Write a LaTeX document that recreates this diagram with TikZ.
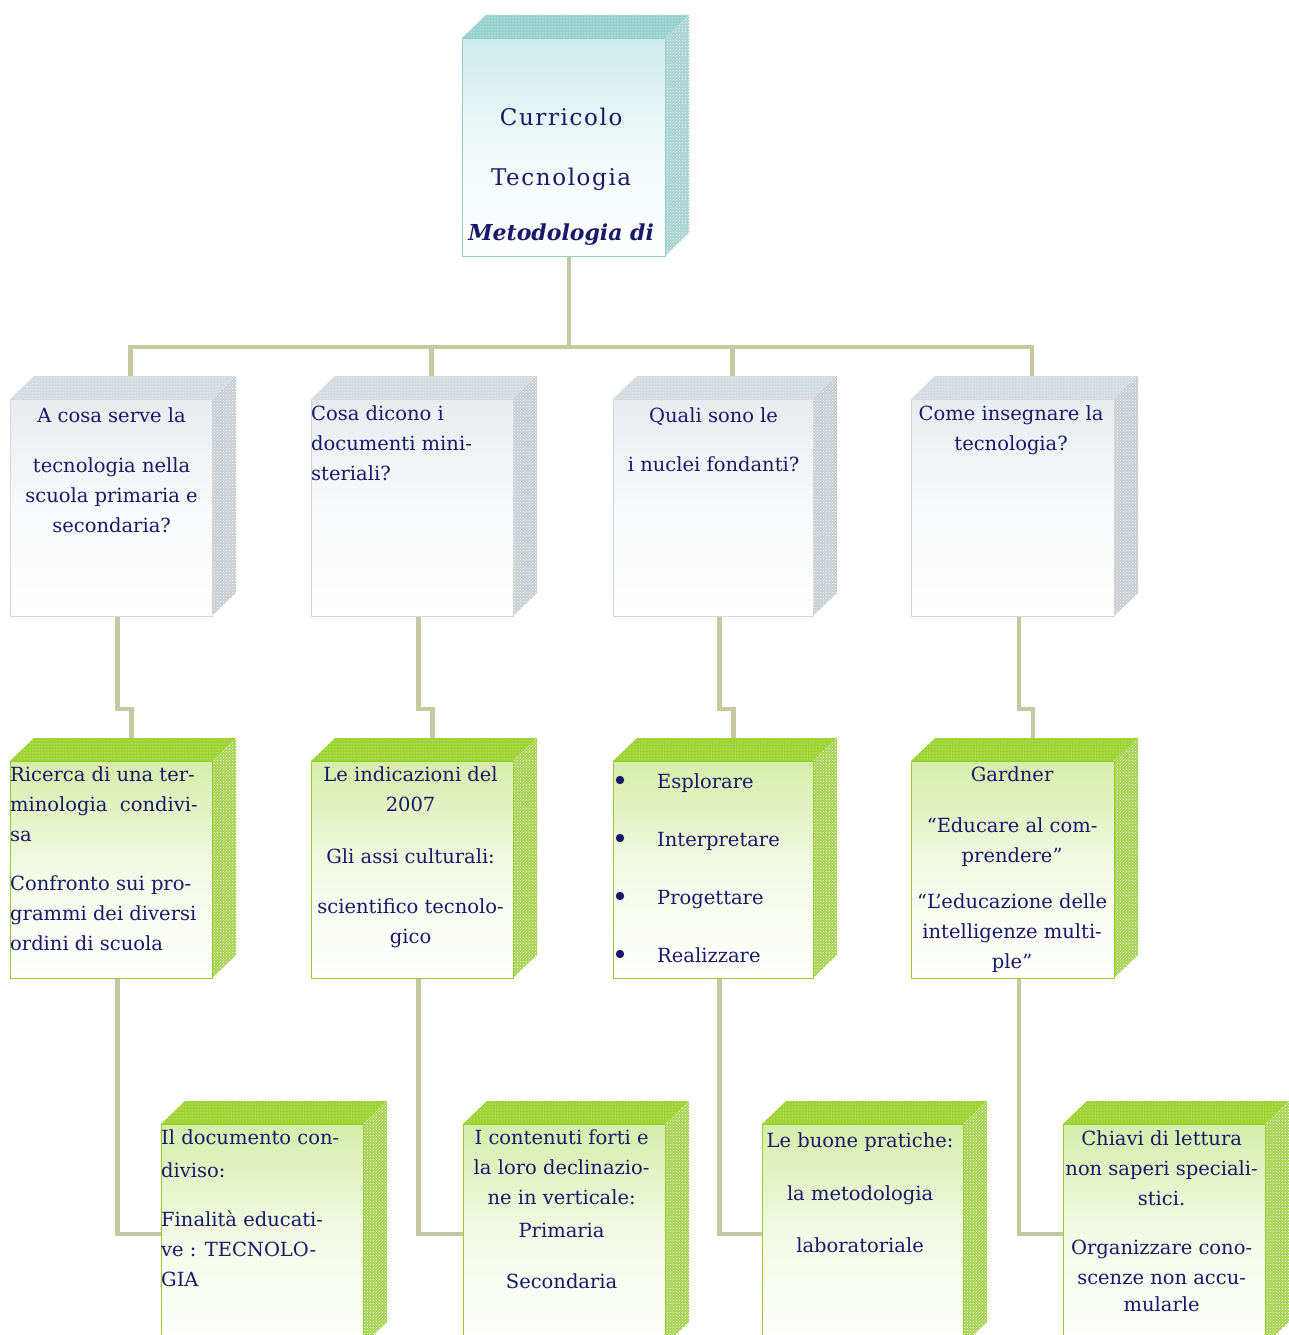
\documentclass[tikz,border=0pt]{standalone}
\usepackage{fontspec}
\setmainfont{DejaVu Serif}
\usetikzlibrary{calc,patterns}
\definecolor{txt}{RGB}{25,25,105}
\definecolor{conn}{RGB}{200,200,160}
% teal scheme
\definecolor{Ttop}{RGB}{150,210,205}
\definecolor{Tside}{RGB}{165,210,210}
\definecolor{Tedge}{RGB}{150,205,205}
\definecolor{Tfront}{RGB}{205,235,235}
% grey scheme
\definecolor{Btop}{RGB}{210,220,224}
\definecolor{Bside}{RGB}{200,205,210}
\definecolor{Bedge}{RGB}{210,216,220}
\definecolor{Bfront}{RGB}{232,236,239}
% green scheme
\definecolor{Gtop}{RGB}{155,210,45}
\definecolor{Gside}{RGB}{165,210,80}
\definecolor{Gedge}{RGB}{150,205,40}
\definecolor{Gfront}{RGB}{215,237,170}
\tikzset{
  conline/.style={draw=conn, line width=4.5pt, line join=miter},
  boxtext/.style={text=txt, font=\fontsize{19.5}{30}\selectfont, inner sep=0pt},
}
% #1 name, #2 x1, #3 y1, #4 x2, #5 y2, #6 scheme
\newcommand\cubebox[6]{%
  \fill[#6top] (#2,#3) -- (#2+24,#3-23) -- (#4+24,#3-23) -- (#4,#3) -- cycle;
  \fill[pattern=dots, pattern color=white] (#2,#3) -- (#2+24,#3-23) -- (#4+24,#3-23) -- (#4,#3) -- cycle;
  \fill[#6side] (#4,#3) -- (#4+24,#3-23) -- (#4+24,#5-23) -- (#4,#5) -- cycle;
  \fill[pattern=crosshatch dots, pattern color=white] (#4,#3) -- (#4+24,#3-23) -- (#4+24,#5-23) -- (#4,#5) -- cycle;
  \node[draw=#6edge, line width=1.2pt, inner sep=0pt, anchor=north west,
        minimum width=#4-#2, minimum height=#5-#3,
        top color=#6front, bottom color=white, middle color=#6front!30!white]
        (#1) at (#2,#3) {};
}
\begin{document}
\begin{tikzpicture}[x=1pt,y=-1pt]
\useasboundingbox[fill=white] (0,0) rectangle (1289,1335);
\clip (0,0) rectangle (1289,1335);

% ---------- boxes ----------
\cubebox{top}{462}{38}{665}{256}{T}
\cubebox{qa}{10}{399}{212}{616}{B}
\cubebox{qb}{311}{399}{513}{616}{B}
\cubebox{qc}{613}{399}{813}{616}{B}
\cubebox{qd}{911}{399}{1114}{616}{B}
\cubebox{ma}{10}{761}{212}{978}{G}
\cubebox{mb}{311}{761}{513}{978}{G}
\cubebox{mc}{613}{761}{813}{978}{G}
\cubebox{md}{911}{761}{1114}{978}{G}
\cubebox{la}{161}{1124}{363}{1345}{G}
\cubebox{lb}{463}{1124}{665}{1345}{G}
\cubebox{lc}{762}{1124}{963}{1345}{G}
\cubebox{ld}{1063}{1124}{1265}{1345}{G}

% ---------- connectors ----------
\coordinate (bus) at ($(top.south)+(5,90)$);
\foreach \n in {qa,qb,qc,qd}{
  \draw[conline] ($(top.south)+(5,0)$) -- (bus) -| ($(\n.north)+(19,-23)$);
}
\foreach \u/\d in {qa/ma,qb/mb,qc/mc,qd/md}{
  \draw[conline] ($(\u.south)+(6,0)$) -- ($(\u.south)+(6,92)$) -| ($(\d.north)+(20,-23)$);
}
\foreach \u/\d in {ma/la,mb/lb,mc/lc,md/ld}{
  \draw[conline] ($(\u.south)+(6,0)$) |- ($(\d.north west)+(0,110)$);
}

% ---------- texts ----------
% top
\node[boxtext, anchor=north, align=center] (ttop) at ($(top.north)+(-3,70)$)
  {\fontsize{23}{30}\selectfont\addfontfeatures{LetterSpace=7}Curricolo\\[30pt]
   \fontsize{23}{30}\selectfont\addfontfeatures{LetterSpace=7}Tecnologia\\[25pt]
   \fontsize{22}{30}\selectfont\bfseries\itshape Metodologia di};

% row 1
\node[boxtext, anchor=north, align=center] (tqa) at ($(qa.north)+(0,8)$)
  {A cosa serve la\\[20pt] tecnologia nella\\ scuola primaria e\\ secondaria?};
\node[boxtext, anchor=north west, align=left] (tqb) at ($(qb.north west)+(0,6)$)
  {Cosa dicono i\\ documenti mini-\\ steriali?};
\node[boxtext, anchor=north, align=center] (tqc) at ($(qc.north)+(0,8)$)
  {Quali sono le\\[19pt] i nuclei fondanti?};
\node[boxtext, anchor=north, align=center] (tqd) at ($(qd.north)+(-2,6)$)
  {Come insegnare la\\ tecnologia?};

% row 2
\node[boxtext, anchor=north west, align=left] (tma) at ($(ma.north west)+(0,5)$)
  {Ricerca di una ter-\\ minologia \ condivi-\\ sa\\[19pt] Confronto sui pro-\\ grammi dei diversi\\ ordini di scuola};
\node[boxtext, anchor=north, align=center] (tmb) at ($(mb.north)+(-2,5)$)
  {Le indicazioni del\\ 2007\\[22pt] Gli assi culturali:\\[20pt] scientifico tecnolo-\\ gico};
\node[boxtext, anchor=north west, align=left] (tmc) at ($(mc.north west)+(44,12)$)
  {Esplorare\\[28pt] Interpretare\\[28pt] Progettare\\[28pt] Realizzare};
\foreach \k in {0,1,2,3}{
  \fill[txt] ($(mc.north west)+(7,19+58*\k)$) circle (4.2pt);
}
\node[boxtext, anchor=north, align=center] (tmd) at ($(md.north)+(-1,5)$)
  {Gardner\\[21pt] “Educare al com-\\ prendere”\\[16pt] “L’educazione delle\\ intelligenze multi-\\ ple”};

% row 3
\node[boxtext, anchor=north west, align=left] (tla) at ($(la.north west)+(0,5)$)
  {Il documento con-\\[3pt] diviso:\\[19pt] Finalità educati-\\ ve : TECNOLO-\\ GIA};
\node[boxtext, anchor=north, align=center] (tlb) at ($(lb.north)+(-3,5)$)
  {I contenuti forti e\\ la loro declinazio-\\ ne in verticale:\\[3pt] Primaria\\[21pt] Secondaria};
\node[boxtext, anchor=north, align=center] (tlc) at ($(lc.north)+(-3,8)$)
  {Le buone pratiche:\\[23pt] la metodologia\\[22pt] laboratoriale};
\node[boxtext, anchor=north, align=center] (tld) at ($(ld.north)+(-3,6)$)
  {Chiavi di lettura\\ non saperi speciali-\\ stici.\\[19pt] Organizzare cono-\\ scenze non accu-\\[-3pt] mularle};
\end{tikzpicture}
\end{document}
